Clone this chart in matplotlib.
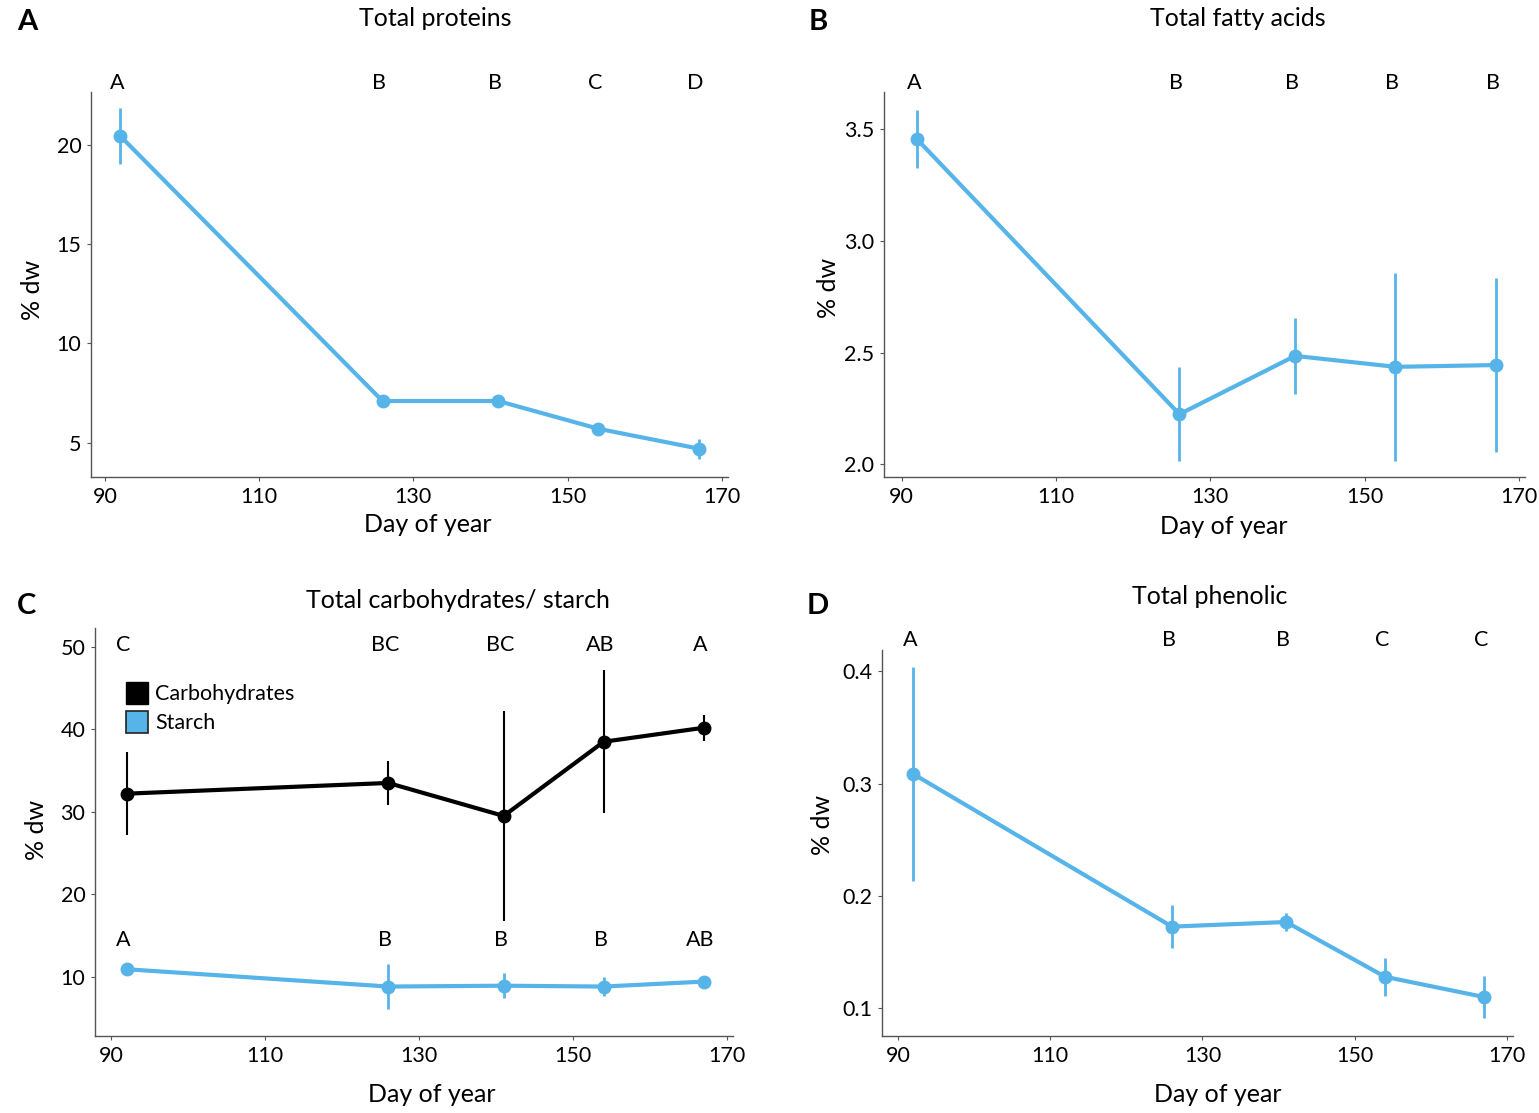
import matplotlib
matplotlib.use("Agg")
import matplotlib.pyplot as plt
from matplotlib.patches import Patch
from matplotlib.transforms import blended_transform_factory

plt.rcParams["font.family"] = ["Lato", "DejaVu Sans"]

BLUE = "#56B4E9"
SPINE = "#555555"

days = [92, 126, 141, 154, 167]

protein = [20.45, 7.1, 7.1, 5.7, 4.7]
protein_err = [1.4, 0.15, 0.15, 0.2, 0.5]
protein_letters = ["A", "B", "B", "C", "D"]

fatty = [3.455, 2.225, 2.486, 2.437, 2.445]
fatty_err = [0.13, 0.21, 0.17, 0.42, 0.39]
fatty_letters = ["A", "B", "B", "B", "B"]

carbs = [32.2, 33.5, 29.5, 38.5, 40.2]
carbs_err = [5.0, 2.7, 12.7, 8.7, 1.6]
carbs_letters = ["C", "BC", "BC", "AB", "A"]

starch = [10.9, 8.8, 8.9, 8.8, 9.4]
starch_err = [0.3, 2.7, 1.5, 1.1, 0.5]
starch_letters = ["A", "B", "B", "B", "AB"]

phenolic = [0.3086, 0.1727, 0.1768, 0.128, 0.110]
phenolic_err = [0.095, 0.019, 0.008, 0.017, 0.019]
phenolic_letters = ["A", "B", "B", "C", "C"]

W, H = 1539, 1113
fig = plt.figure(figsize=(W / 100, H / 100), dpi=100)


def px_axes(left, top, right, bottom):
    return fig.add_axes([left / W, 1 - bottom / H, (right - left) / W, (bottom - top) / H])


def style(ax, xlim, ylim, yticks, yfmt):
    ax.set_xlim(*xlim)
    ax.set_ylim(*ylim)
    ax.set_xticks([90, 110, 130, 150, 170])
    ax.set_yticks(yticks)
    ax.set_yticklabels([yfmt.format(v) for v in yticks])
    for s in ("top", "right"):
        ax.spines[s].set_visible(False)
    for s in ("left", "bottom"):
        ax.spines[s].set_color(SPINE)
        ax.spines[s].set_linewidth(1.0)
    ax.tick_params(labelsize=15.5, length=3, width=0.8, color=SPINE, pad=4)


def series(ax, y, err, color, elw=2.0):
    ax.errorbar(days, y, yerr=err, fmt="-o", color=color, lw=3.0, ms=9,
                elinewidth=elw, capsize=0, zorder=3)


def letters(ax, labels, y, coords="axes"):
    if coords == "axes":
        tr = blended_transform_factory(ax.transData, ax.transAxes)
    else:
        tr = ax.transData
    for d, lab in zip(days, labels):
        ax.text(d - 0.4, y, lab, transform=tr, ha="center", va="center",
                fontsize=15.5, clip_on=False)


# A
axA = px_axes(91, 92, 728, 477)
series(axA, protein, protein_err, BLUE)
style(axA, (88.2, 170.8), (3.27, 22.67), [5, 10, 15, 20], "{:g}")
letters(axA, protein_letters, 1.024)

# B
axB = px_axes(884, 92, 1525, 477)
series(axB, fatty, fatty_err, BLUE)
style(axB, (87.7, 170.8), (1.944, 3.667), [2.0, 2.5, 3.0, 3.5], "{:.1f}")
letters(axB, fatty_letters, 1.024)

# C
axC = px_axes(95, 628, 733, 1036)
series(axC, carbs, carbs_err, "black", elw=1.5)
series(axC, starch, starch_err, BLUE)
style(axC, (87.9, 170.8), (2.8, 52.3), [10, 20, 30, 40, 50], "{:g}")
letters(axC, carbs_letters, 0.958)
letters(axC, starch_letters, 14.45, coords="data")
handles = [Patch(facecolor="black", edgecolor="black"),
           Patch(facecolor=BLUE, edgecolor="#222222", linewidth=1.2)]
axC.legend(handles, ["Carbohydrates", "Starch"], loc="upper left",
           bbox_to_anchor=(0.025, 0.905), frameon=False, fontsize=15.5,
           handlelength=1.0, handleheight=1.2, handletextpad=0.35,
           labelspacing=0.3, borderpad=0.2)

# D
axD = px_axes(882, 650, 1513, 1036)
series(axD, phenolic, phenolic_err, BLUE)
style(axD, (87.9, 170.8), (0.0753, 0.419), [0.1, 0.2, 0.3, 0.4], "{:.1f}")
letters(axD, phenolic_letters, 1.026)

# titles, panel letters, axis labels
titles = [("Total proteins", 435, 18), ("Total fatty acids", 1238, 18),
          ("Total carbohydrates/ starch", 458, 600), ("Total phenolic", 1210, 596)]
for t, x, y in titles:
    fig.text(x / W, 1 - y / H, t, ha="center", va="center", fontsize=18)

for lab, x, y in [("A", 27, 22), ("B", 818, 22), ("C", 27, 606), ("D", 818, 606)]:
    fig.text(x / W, 1 - y / H, lab, ha="center", va="center", fontsize=21,
             fontweight="bold")

for x, y in [(33, 290), (828, 288), (37, 830), (822, 825)]:
    fig.text(x / W, 1 - y / H, "% dw", rotation=90, ha="center", va="center",
             fontsize=18)

for x, y in [(428, 525), (1224, 527), (432, 1095), (1218, 1095)]:
    fig.text(x / W, 1 - y / H, "Day of year", ha="center", va="center",
             fontsize=18)

fig.savefig("out.png", dpi=100, facecolor="white")
